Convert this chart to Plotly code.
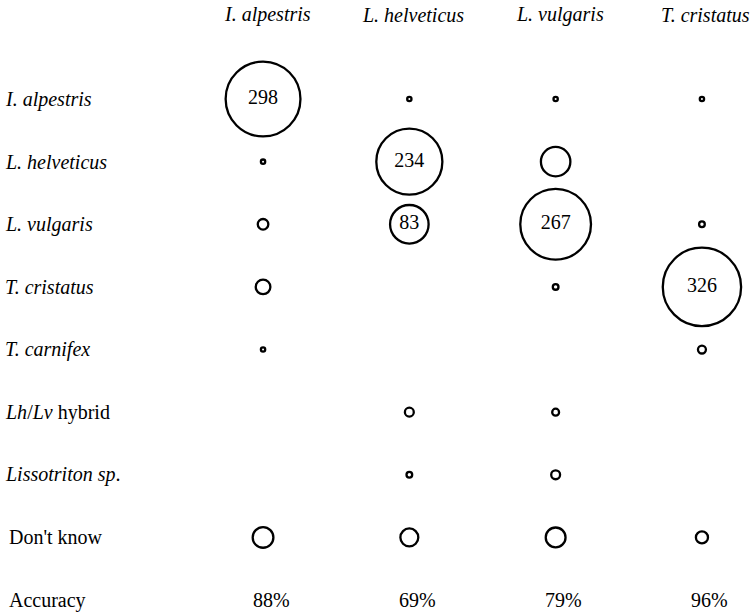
import numpy as np
import plotly.graph_objects as go

# observed species (columns) and identifications (rows)
columns = ["I. alpestris", "L. helveticus", "L. vulgaris", "T. cristatus"]
row_labels = ["<i>I. alpestris</i>", "<i>L. helveticus</i>", "<i>L. vulgaris</i>",
              "<i>T. cristatus</i>", "<i>T. carnifex</i>", "<i>Lh</i>/<i>Lv</i> hybrid",
              "<i>Lissotriton sp</i>.", "Don't know"]

# counts per column, in row order (0 = no circle)
i_alpestris = [298, 2, 8, 14, 2, 0, 0, 26]
l_helveticus = [2, 234, 83, 0, 0, 6, 3, 20]
l_vulgaris = [2, 50, 267, 3, 0, 4, 6, 24]
t_cristatus = [2, 0, 3, 326, 5, 0, 0, 10]
accuracy = ["88%", "69%", "79%", "96%"]

counts = [i_alpestris, l_helveticus, l_vulgaris, t_cristatus]
FONT = "Liberation Serif, Times New Roman, serif"

fig = go.Figure()
for ci, col in enumerate(counts):
    ys = [ri for ri, c in enumerate(col) if c > 0]
    vals = [c for c in col if c > 0]
    fig.add_trace(go.Scatter(
        x=[ci] * len(ys), y=ys,
        mode="markers+text",
        marker=dict(size=[4.45 * np.sqrt(v) - 2 for v in vals], color="rgba(255,255,255,0)",
                    opacity=1, line=dict(color="#000000", width=2.3)),
        text=[str(v) if v >= 80 else "" for v in vals],
        textposition="middle center",
        textfont=dict(family=FONT, size=20, color="black"),
        showlegend=False, hoverinfo="skip"))

# column headers
for ci, name in enumerate(columns):
    fig.add_annotation(x=ci, y=1 - 15 / 616, xref="x", yref="paper", text=f"<i>{name}</i>",
                       showarrow=False, font=dict(family=FONT, size=20, color="black"),
                       xanchor="center", yanchor="middle", xshift=4)

# row labels
for ri, lab in enumerate(row_labels + ["Accuracy"]):
    fig.add_annotation(x=0.004 if ri < 7 else 0.009, y=ri, xref="paper", yref="y", text=lab,
                       showarrow=False, font=dict(family=FONT, size=20, color="black"),
                       xanchor="left", yanchor="middle")

# accuracy row
for ci, acc in enumerate(accuracy):
    fig.add_annotation(x=ci, y=len(row_labels), xref="x", yref="y", text=acc,
                       showarrow=False, font=dict(family=FONT, size=20, color="black"),
                       xanchor="center", yanchor="middle", xshift=8)

fig.update_xaxes(range=[-1.798, 3.349], visible=False)
fig.update_yaxes(range=[8.255, -1.581], visible=False)
fig.update_layout(width=753, height=616, margin=dict(l=0, r=0, t=0, b=0),
                  plot_bgcolor="white", paper_bgcolor="white")
fig.write_html("out.html", config={"displayModeBar": False},
               post_script="document.body.style.margin='0';")
